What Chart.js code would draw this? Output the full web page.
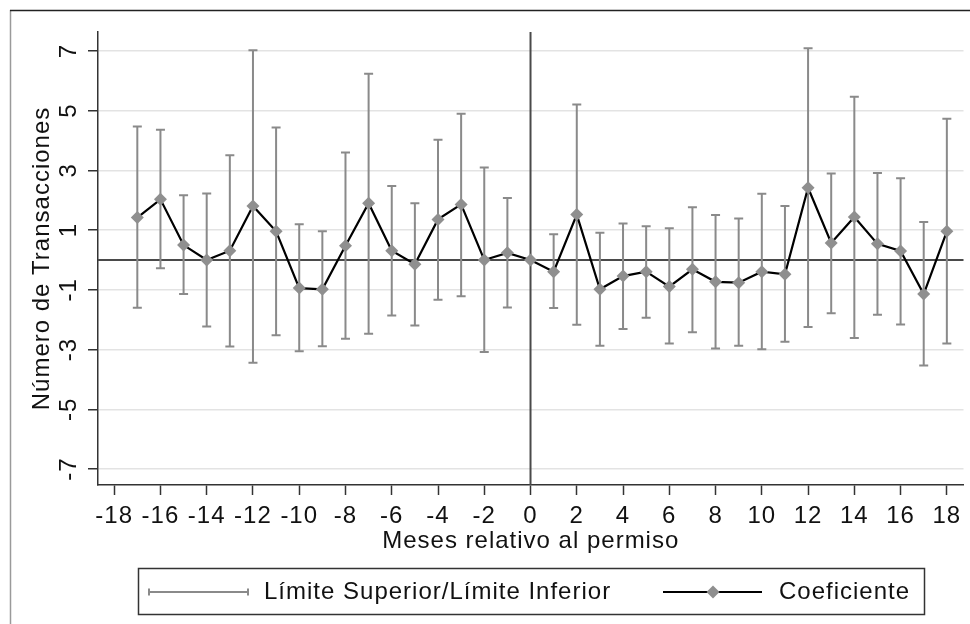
<!DOCTYPE html>
<html>
<head>
<meta charset="utf-8">
<script src="https://cdn.jsdelivr.net/npm/chart.js@4.4.1/dist/chart.umd.min.js"></script>
<style>
  html, body { margin: 0; padding: 0; background: #fff; }
  canvas { display: block; }
</style>
</head>
<body>
<canvas id="chart" width="970" height="624"></canvas>
<script>
// meses relativos al permiso (0 = categoria omitida)
const months = [-17, -16, -15, -14, -13, -12, -11, -10, -9, -8, -7, -6, -5, -4, -3, -2, -1, 0,
  1, 2, 3, 4, 5, 6, 7, 8, 9, 10, 11, 12, 13, 14, 15, 16, 17, 18];
const coef = [1.42, 2.03, 0.50, 0.00, 0.31, 1.81, 0.96, -0.94, -0.98, 0.48, 1.90, 0.31, -0.14, 1.36, 1.86, 0.00, 0.24, 0.00,
  -0.39, 1.52, -0.98, -0.54, -0.39, -0.89, -0.31, -0.73, -0.76, -0.39, -0.48, 2.42, 0.57, 1.44, 0.54, 0.30, -1.14, 0.96];
const upper = [4.47, 4.36, 2.17, 2.23, 3.51, 7.02, 4.44, 1.20, 0.96, 3.60, 6.24, 2.48, 1.90, 4.03, 4.90, 3.10, 2.08, null,
  0.86, 5.21, 0.91, 1.22, 1.13, 1.06, 1.77, 1.51, 1.39, 2.22, 1.81, 7.09, 2.90, 5.47, 2.91, 2.74, 1.27, 4.73];
const lower = [-1.60, -0.28, -1.14, -2.23, -2.90, -3.44, -2.52, -3.06, -2.89, -2.64, -2.47, -1.86, -2.19, -1.33, -1.21, -3.08, -1.59, null,
  -1.61, -2.17, -2.87, -2.31, -1.93, -2.80, -2.42, -2.96, -2.87, -2.99, -2.74, -2.24, -1.78, -2.61, -1.83, -2.16, -3.53, -2.80];

const xTicks = [-18, -16, -14, -12, -10, -8, -6, -4, -2, 0, 2, 4, 6, 8, 10, 12, 14, 16, 18];
const yTicks = [-7, -5, -3, -1, 1, 3, 5, 7];

const legendLabels = ['Límite Superior/Límite Inferior', 'Coeficiente'];

const FONT = "'Liberation Sans', Arial, Helvetica, sans-serif";
const barColor = '#8a8a8a';
const markerColor = '#8f8f8f';
const axisColor = '#333';

Chart.defaults.font.family = FONT;
Chart.defaults.font.size = 24;
Chart.defaults.color = '#111';

// marco, linea cero, intervalos y leyenda
const decor = {
  id: 'decor',
  beforeDraw(chart) {
    const ctx = chart.ctx;
    ctx.letterSpacing = '1px';
    ctx.save();
    ctx.lineWidth = 1.5;
    ctx.strokeStyle = '#9a9a9a';
    ctx.beginPath();
    ctx.moveTo(10.5, 10);
    ctx.lineTo(10.5, chart.height);
    ctx.stroke();
    ctx.strokeStyle = '#222';
    ctx.beginPath();
    ctx.moveTo(10, 10.5);
    ctx.lineTo(chart.width, 10.5);
    ctx.stroke();
    ctx.restore();
  },
  beforeDatasetsDraw(chart) {
    const ctx = chart.ctx;
    const xs = chart.scales.x, ys = chart.scales.y;
    const area = chart.chartArea;
    ctx.save();
    // referencias en 0
    ctx.strokeStyle = '#4a4a4a';
    ctx.lineWidth = 2;
    const y0 = ys.getPixelForValue(0);
    ctx.beginPath();
    ctx.moveTo(area.left, y0);
    ctx.lineTo(area.right, y0);
    ctx.stroke();
    const x0 = xs.getPixelForValue(0);
    ctx.beginPath();
    ctx.moveTo(x0, area.top);
    ctx.lineTo(x0, area.bottom);
    ctx.stroke();
    // intervalos de confianza
    ctx.strokeStyle = barColor;
    ctx.lineWidth = 2;
    months.forEach((m, i) => {
      if (upper[i] === null) return;
      const x = xs.getPixelForValue(m);
      const yu = ys.getPixelForValue(upper[i]);
      const yl = ys.getPixelForValue(lower[i]);
      ctx.beginPath();
      ctx.moveTo(x, yu);
      ctx.lineTo(x, yl);
      ctx.moveTo(x - 4.5, yu);
      ctx.lineTo(x + 4.5, yu);
      ctx.moveTo(x - 4.5, yl);
      ctx.lineTo(x + 4.5, yl);
      ctx.stroke();
    });
    ctx.restore();
  },
  afterDraw(chart) {
    const ctx = chart.ctx;
    ctx.save();
    ctx.letterSpacing = '1px';
    // caja
    ctx.strokeStyle = axisColor;
    ctx.lineWidth = 1.5;
    ctx.strokeRect(138.5, 568.5, 786, 46);
    const ly = 592;
    // simbolo intervalo
    ctx.strokeStyle = barColor;
    ctx.lineWidth = 2;
    ctx.beginPath();
    ctx.moveTo(149, ly);
    ctx.lineTo(248, ly);
    ctx.moveTo(149, ly - 3.5);
    ctx.lineTo(149, ly + 3.5);
    ctx.moveTo(248, ly - 3.5);
    ctx.lineTo(248, ly + 3.5);
    ctx.stroke();
    // simbolo coeficiente
    ctx.strokeStyle = '#000';
    ctx.lineWidth = 2.2;
    ctx.beginPath();
    ctx.moveTo(663, ly);
    ctx.lineTo(762, ly);
    ctx.stroke();
    ctx.fillStyle = markerColor;
    ctx.beginPath();
    ctx.moveTo(713, ly - 6.5);
    ctx.lineTo(719.5, ly);
    ctx.lineTo(713, ly + 6.5);
    ctx.lineTo(706.5, ly);
    ctx.closePath();
    ctx.fill();
    // textos
    ctx.fillStyle = '#111';
    ctx.font = '24px ' + FONT;
    ctx.textBaseline = 'middle';
    ctx.textAlign = 'left';
    ctx.fillText(legendLabels[0], 264, ly);
    ctx.fillText(legendLabels[1], 779, ly);
    ctx.restore();
  }
};

new Chart(document.getElementById('chart'), {
  type: 'line',
  data: {
    datasets: [{
      label: 'Coeficiente',
      data: months.map((m, i) => ({ x: m, y: coef[i] })),
      borderColor: '#000',
      borderWidth: 2.2,
      tension: 0,
      pointStyle: 'rectRot',
      pointRadius: 6.5,
      pointBorderWidth: 0,
      pointBackgroundColor: markerColor,
      pointBorderColor: markerColor,
      fill: false
    }]
  },
  options: {
    responsive: false,
    animation: false,
    layout: { padding: { left: 10, top: 32, right: 4, bottom: 68 } },
    plugins: {
      legend: { display: false },
      tooltip: { enabled: false }
    },
    scales: {
      x: {
        type: 'linear',
        min: -18.7,
        max: 18.72,
        afterBuildTicks: s => { s.ticks = xTicks.map(v => ({ value: v })); },
        afterFit: s => { s.height = 71; },
        grid: { drawOnChartArea: false, tickColor: axisColor, tickLength: 10, tickWidth: 1.5 },
        border: { color: axisColor, width: 1.5 },
        ticks: { padding: 7, minRotation: 0, maxRotation: 0, autoSkip: false, color: '#111' },
        title: { display: true, text: 'Meses relativo al permiso', padding: { top: 0, bottom: 0 }, color: '#111' }
      },
      y: {
        min: -7.535,
        max: 7.635,
        afterBuildTicks: s => { s.ticks = yTicks.map(v => ({ value: v })); },
        afterFit: s => { s.width = 88; },
        grid: { color: '#e3e3e3', lineWidth: 1.5, tickColor: axisColor, tickLength: 10, tickWidth: 1.5 },
        border: { color: axisColor, width: 1.5 },
        ticks: { minRotation: 90, maxRotation: 90, crossAlign: 'center', padding: 7.5, color: '#111' },
        title: { display: true, text: 'Número de Transacciones', padding: { top: 17.6, bottom: 0 }, color: '#111' }
      }
    }
  },
  plugins: [decor]
});
</script>
</body>
</html>
